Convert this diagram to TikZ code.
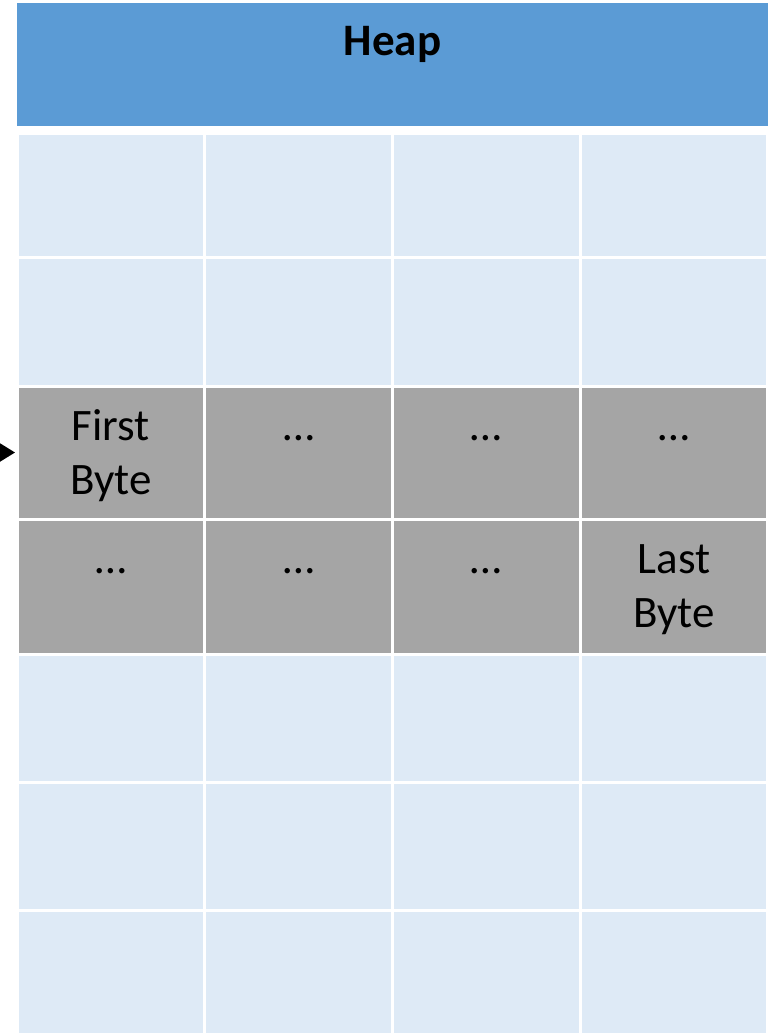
\documentclass[tikz,border=0pt]{standalone}
\usepackage{fontspec}
\setmainfont{Carlito}
\usetikzlibrary{arrows.meta}
\definecolor{heapblue}{HTML}{5B9BD5}
\definecolor{freecell}{HTML}{DEEAF6}
\definecolor{usedcell}{HTML}{A5A5A5}
\begin{document}
\begin{tikzpicture}[x=0.75pt, y=-0.75pt,
    cellbox/.style={rectangle, draw=white, line width=2.25pt, inner sep=0pt, outer sep=0pt,
      minimum width=140.8pt},
    celltext/.style={anchor=base, align=center, inner sep=0pt,
      font=\fontsize{33.75pt}{40.5pt}\selectfont},
    ptrarrow/.style={line width=1.5pt, -{Triangle[length=11.25pt, width=13.5pt]}}]
  \useasboundingbox (0,0) rectangle (775,1033);
  % header bar
  \node[rectangle, fill=heapblue, inner sep=0pt, minimum width=563.25pt, minimum height=92.25pt]
    (header) at (392.5,64.5) {};
  \node[celltext, font=\fontsize{33.75pt}{40.5pt}\selectfont\bfseries] (title)
    at ([yshift=-39.75pt]header.north) {Heap};
  % grid of cells: row / top / height / fill
  \foreach \r/\top/\h/\shade in {1/133/124/freecell, 2/257/129/freecell, 3/386/133/usedcell,
      4/519/135/usedcell, 5/654/128/freecell, 6/782/128/freecell, 7/910/128/freecell}
    \foreach \c in {1,...,4}
      \node[cellbox, fill=\shade, minimum height=\h*0.75pt] (c\r\c)
        at ({17+(\c-0.5)*187.75}, {\top+\h/2}) {};
  % allocated block (base of a two-line node is its second line)
  \node[celltext] (first) at ([yshift=-81pt]c31.north) {First\\Byte};
  \node[celltext] (dots32) at ([yshift=-40.5pt]c32.north) {…};
  \node[celltext] (dots33) at ([yshift=-40.5pt]c33.north) {…};
  \node[celltext] (dots34) at ([yshift=-40.5pt]c34.north) {…};
  \node[celltext] (dots41) at ([yshift=-40.5pt]c41.north) {…};
  \node[celltext] (dots42) at ([yshift=-40.5pt]c42.north) {…};
  \node[celltext] (dots43) at ([yshift=-40.5pt]c43.north) {…};
  \node[celltext] (last) at ([yshift=-81pt]c44.north) {Last\\Byte};
  % pointer from outside
  \coordinate (ptr) at (-80,452.5);
  \draw[ptrarrow, shorten >=1.5pt] (ptr) -- (c31.west);
\end{tikzpicture}
\end{document}
